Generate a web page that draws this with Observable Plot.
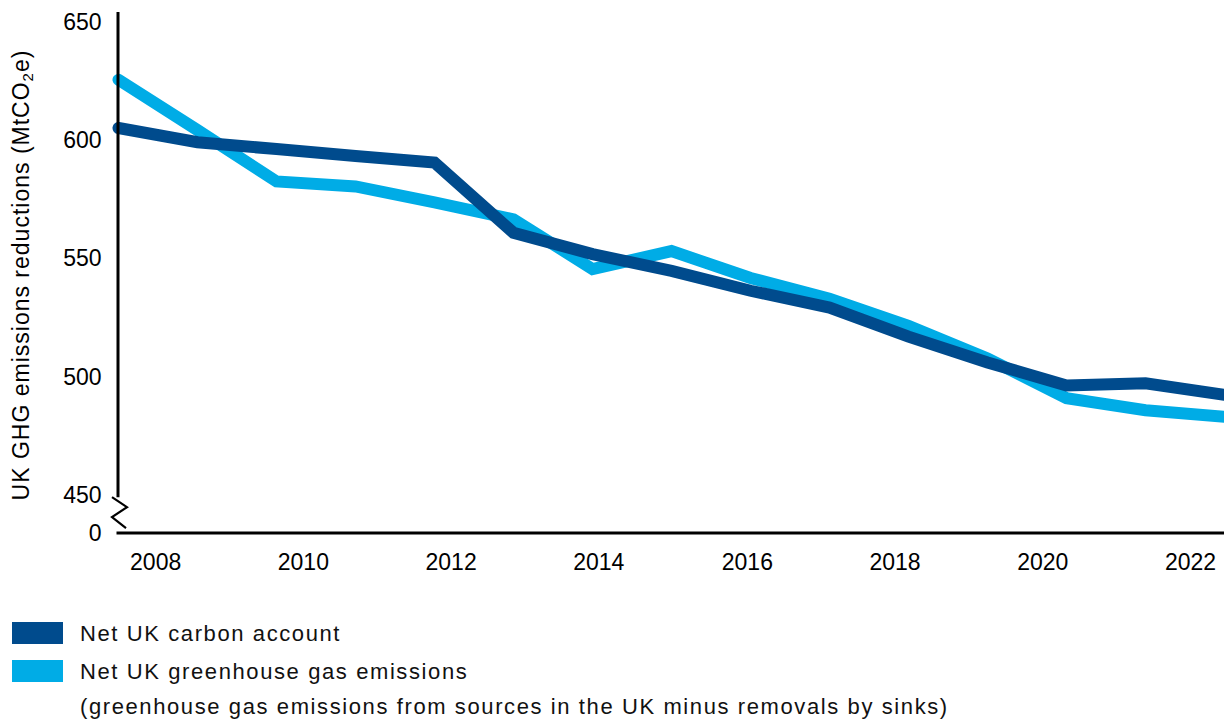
<!DOCTYPE html>
<html><head><meta charset="utf-8">
<script src="https://cdn.jsdelivr.net/npm/d3@7"></script>
<script src="https://cdn.jsdelivr.net/npm/@observablehq/plot@0.6"></script>
<style>
body{margin:0;background:#fff;font-family:"Liberation Sans",Arial,sans-serif;color:#000;}
#legend{position:relative;height:130px;width:1224px;}
.sw{position:absolute;left:12px;width:51px;height:22px;}
.lt{position:absolute;left:80px;font-size:22px;line-height:35px;letter-spacing:1.6px;white-space:nowrap;color:#111;}
.ytitle text{letter-spacing:1px;}
</style></head><body>
<div id="chart"></div>
<div id="legend"></div>
<script>
const years = [2008, 2009, 2010, 2011, 2012, 2013, 2014, 2015, 2016, 2017, 2018, 2019, 2020, 2021, 2022];
const carbonAccount = [605.4, 599.4, 596.5, 593.6, 590.8, 561.1, 552.1, 545.0, 536.6, 529.5, 517.2, 506.3, 496.6, 497.5, 492.6];
const ghgEmissions = [625.8, 604.5, 582.8, 580.7, 574.0, 566.8, 545.8, 553.4, 542.0, 533.2, 521.8, 508.0, 491.2, 486.1, 483.3];
const seriesNames = ["Net UK carbon account", "Net UK greenhouse gas emissions"];
const seriesNotes = ["", "(greenhouse gas emissions from sources in the UK minus removals by sinks)"];
const seriesColors = ["#004B8D", "#00ACE6"];
const yTicks = [450, 500, 550, 600, 650];
const yBreakValue = 434;
const yBreakLabel = "0";
const yTitle = ["UK GHG emissions reductions (MtCO", "2", "e)"];
const xTickLabels = ["2008", "2010", "2012", "2014", "2016", "2018", "2020", "2022"];
const xTickPositions = [2008.47, 2010.34, 2012.21, 2014.08, 2015.96, 2017.83, 2019.70, 2021.57];

const table = [];
years.forEach((yr, i) => {
  table.push({series: seriesNames[1], year: yr, value: ghgEmissions[i]});
});
years.forEach((yr, i) => {
  table.push({series: seriesNames[0], year: yr, value: carbonAccount[i]});
});

function axisWithBreak(index, scales, values, dimensions) {
  const x0 = scales.x(years[0]);
  const yTop = scales.y(yTicks[yTicks.length - 1]) - 10;
  const yb = scales.y(yTicks[0]);
  const yBottom = scales.y(yBreakValue);
  const g = d3.create("svg:g").attr("fill", "none").attr("stroke", "#000");
  g.append("path").attr("stroke-width", 3).attr("d", `M${x0},${yTop}V${yb + 2}`);
  g.append("path").attr("stroke-width", 2.2).attr("stroke-linejoin", "miter")
    .attr("d", `M${x0 - 6},${yb + 2}L${x0 + 9},${yb + 12}L${x0 - 6},${yb + 22}L${x0 + 8},${yb + 33}`);
  g.append("path").attr("stroke-width", 3).attr("d", `M${x0 - 1.5},${yBottom}H${dimensions.width}`);
  return g.node();
}

const chart = Plot.plot({
  width: 1224,
  height: 590,
  marginLeft: 118,
  marginRight: 0,
  marginTop: 22,
  marginBottom: 57,
  style: {fontFamily: "'Liberation Sans', Arial, sans-serif", fontSize: "22px", color: "#000", background: "#fff"},
  x: {domain: [years[0], years[years.length - 1]]},
  y: {domain: [yBreakValue, yTicks[yTicks.length - 1]]},
  color: {domain: seriesNames, range: seriesColors},
  marks: [
    Plot.line(table, {x: "year", y: "value", z: "series", stroke: "series", strokeWidth: 12, strokeLinejoin: "miter", strokeMiterlimit: 4}),
    axisWithBreak,
    Plot.axisY({ticks: [yBreakValue, ...yTicks], tickFormat: d => d === yBreakValue ? yBreakLabel : String(d), tickSize: 0, tickPadding: 17, fontSize: 23, label: null}),
    Plot.axisX({ticks: xTickPositions, tickFormat: d => xTickLabels[xTickPositions.indexOf(d)], tickSize: 0, tickPadding: 20, fontSize: 23, label: null}),
    Plot.text([yTitle.join("")], {frameAnchor: "left", textAnchor: "middle", rotate: -90, dx: -97, dy: -3, fontSize: 23, text: d => d, className: "ytitle"})
  ]
});
document.getElementById("chart").appendChild(chart);

// subscript in the y title
const t = chart.querySelector(".ytitle text");
if (t) {
  t.textContent = "";
  const sel = d3.select(t);
  sel.append("tspan").text(yTitle[0]);
  sel.append("tspan").attr("font-size", "15px").attr("dy", "0.3em").text(yTitle[1]);
  sel.append("tspan").attr("dy", "-0.2em").text(yTitle[2]);
}

// legend
const legend = document.getElementById("legend");
const swTops = [32, 70];
const txtTops = [25.5, 64];
seriesNames.forEach((name, i) => {
  const sw = document.createElement("div");
  sw.className = "sw";
  sw.style.top = swTops[i] + "px";
  sw.style.background = seriesColors[i];
  legend.appendChild(sw);
  const tx = document.createElement("div");
  tx.className = "lt";
  tx.style.top = txtTops[i] + "px";
  tx.innerHTML = name + (seriesNotes[i] ? "<br>" + seriesNotes[i] : "");
  legend.appendChild(tx);
});
</script>
</body></html>
